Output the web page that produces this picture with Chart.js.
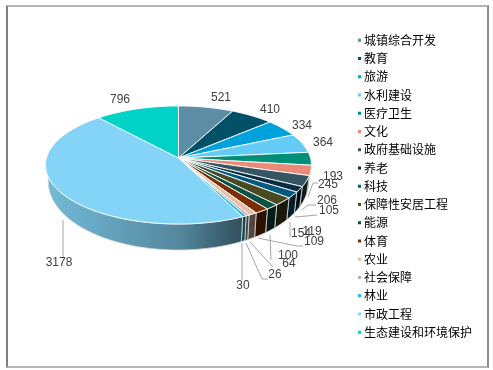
<!DOCTYPE html>
<html lang="zh">
<head>
    <meta charset="UTF-8">
    <title>各领域项目数量</title>
    <script src="https://cdnjs.cloudflare.com/ajax/libs/Chart.js/4.4.1/chart.umd.min.js"></script>
    <style>
        html, body { margin: 0; padding: 0; background: #fff; overflow: hidden; }
        #wrap { position: relative; width: 493px; height: 370px; }
        #frame {
            position: absolute; left: 6px; top: 5px; width: 479px; height: 359px;
            border-left: 2px solid #808080; border-right: 2px solid #8c8c8c;
            border-top: 2px solid #b4b4b4; border-bottom: 2px solid #b4b4b4;
        }
        canvas { position: absolute; left: 0; top: 0; }
    </style>
</head>
<body>
<div id="wrap">
    <div id="frame"></div>
    <canvas id="chart" width="493" height="370"></canvas>
</div>
<script>
    const categories = ['城镇综合开发', '教育', '旅游', '水利建设', '医疗卫生', '文化', '政府基础设施', '养老', '科技',
        '保障性安居工程', '能源', '体育', '农业', '社会保障', '林业', '市政工程', '生态建设和环境保护'];
    const values = [521, 410, 334, 364, 245, 193, 206, 105, 119, 154, 100, 109, 64, 26, 30, 3178, 796];
    const colors = ['#5c8da5', '#005068', '#00a2dc', '#63cbf5', '#00907a', '#e98b77', '#355563', '#0a2c3f', '#005a80',
        '#4a4a22', '#0b5245', '#7c2d05', '#e5bda8', '#b0b0b0', '#1cb8e8', '#83d4f7', '#00d2c8'];

    // where each value label sits, same order as values
    const labelX = [221, 270, 302, 323, 328, 333, 327, 329, 312, 301, 288, 314, 289, 275, 243, 59, 120];
    const labelY = [98, 110, 126, 143, 185, 177, 201, 211, 232, 234, 256, 242, 264, 275, 286, 263, 100];

    // callout lines, as the original has them
    const leaders = [
        [[308, 197], [313, 183], [318, 183]],
        [[302, 210], [308, 205], [316, 205]],
        [[295, 217], [317, 215]],
        [[290, 222], [290, 237]],
        [[258, 238], [297, 246], [303, 246]],
        [[270, 235], [271, 260]],
        [[250, 242], [273, 267]],
        [[246, 243], [262, 279], [268, 279]],
        [[242, 243], [242, 280]],
        [[63, 220], [63, 257]]
    ];

    // the tilted disc: a circle seen in perspective
    const cx = 178.5, apexY = 158, radiusX = 132, radiusY = 58.2, tilt = 0.1186;

    function topPoint(angle) {
        const u = Math.cos(angle), v = Math.sin(angle);
        const s = 1 / (1 - tilt * v);
        return [cx + radiusX * u * s, apexY + radiusY * v * s];
    }

    function bottomPoint(angle) {
        const p = topPoint(angle);
        return [cx + (p[0] - cx) * 0.98, p[1] + 15 + 11 * Math.sin(angle)];
    }

    function shade(hex, f) {
        const n = parseInt(hex.slice(1), 16);
        return `rgb(${Math.round((n >> 16) * f)},${Math.round(((n >> 8) & 255) * f)},${Math.round((n & 255) * f)})`;
    }

    function sideFill(ctx, color) {
        const g = ctx.createLinearGradient(46, 0, 312, 0);
        g.addColorStop(0, shade(color, 0.88));
        g.addColorStop(0.5, shade(color, 0.64));
        g.addColorStop(0.73, shade(color, 0.38));
        g.addColorStop(1, shade(color, 0.3));
        return g;
    }

    function arcPath(ctx, from, to, fn, first) {
        const steps = Math.max(2, Math.ceil(Math.abs(to - from) / 0.02));
        for (let i = 0; i <= steps; i++) {
            const p = fn(from + (to - from) * i / steps);
            if (i === 0 && first) ctx.moveTo(p[0], p[1]);
            else ctx.lineTo(p[0], p[1]);
        }
    }

    const disc3d = {
        id: 'disc3d',
        beforeDatasetsDraw(chart) {
            const ctx = chart.ctx;
            const arcs = chart.getDatasetMeta(0).data;
            ctx.save();
            ctx.lineJoin = 'round';

            // side wall, front half only
            arcs.forEach((arc, i) => {
                const a0 = Math.max(arc.startAngle, 0);
                const a1 = Math.min(arc.endAngle, Math.PI);
                if (a1 <= a0) return;
                ctx.beginPath();
                arcPath(ctx, a0, a1, topPoint, true);
                arcPath(ctx, a1, a0, bottomPoint, false);
                ctx.closePath();
                ctx.fillStyle = sideFill(ctx, colors[i]);
                ctx.fill();
                ctx.strokeStyle = '#d8d8d8';
                ctx.lineWidth = 0.8;
                ctx.stroke();
            });

            // top face
            arcs.forEach((arc, i) => {
                ctx.beginPath();
                ctx.moveTo(cx, apexY);
                arcPath(ctx, arc.startAngle, arc.endAngle, topPoint, false);
                ctx.closePath();
                ctx.fillStyle = colors[i];
                ctx.fill();
                ctx.strokeStyle = '#fff';
                ctx.lineWidth = 0.9;
                ctx.stroke();
            });

            // callouts
            ctx.strokeStyle = '#a6a6a6';
            ctx.lineWidth = 1;
            leaders.forEach(line => {
                ctx.beginPath();
                line.forEach((p, i) => i ? ctx.lineTo(p[0], p[1]) : ctx.moveTo(p[0], p[1]));
                ctx.stroke();
            });

            // value labels
            ctx.font = '12px "Liberation Sans", Arial, sans-serif';
            ctx.fillStyle = '#404040';
            ctx.textAlign = 'center';
            ctx.textBaseline = 'middle';
            values.forEach((v, i) => ctx.fillText(String(v), labelX[i], labelY[i]));
            ctx.restore();
            return false;
        },
        afterDraw(chart) {
            // small square markers in front of the legend text
            const ctx = chart.ctx;
            ctx.save();
            chart.legend.legendHitBoxes.forEach((box, i) => {
                ctx.fillStyle = colors[i];
                ctx.fillRect(box.left, box.top + 4.5, 3, 3);
            });
            ctx.restore();
        }
    };

    new Chart(document.getElementById('chart'), {
        type: 'pie',
        data: {
            labels: categories,
            datasets: [{ data: values, backgroundColor: colors }]
        },
        plugins: [disc3d],
        options: {
            responsive: false,
            animation: false,
            layout: { padding: { top: 28, right: 11 } },
            plugins: {
                tooltip: { enabled: false },
                legend: {
                    position: 'right',
                    align: 'start',
                    labels: {
                        boxWidth: 0,
                        padding: 6.25,
                        color: '#333',
                        font: { family: '"Noto Sans CJK SC"', size: 12 },
                        generateLabels(chart) {
                            return categories.map((text, i) => ({
                                text, index: i, fillStyle: 'rgba(0,0,0,0)', strokeStyle: 'rgba(0,0,0,0)', lineWidth: 0
                            }));
                        }
                    }
                }
            }
        }
    });
</script>
</body>
</html>
